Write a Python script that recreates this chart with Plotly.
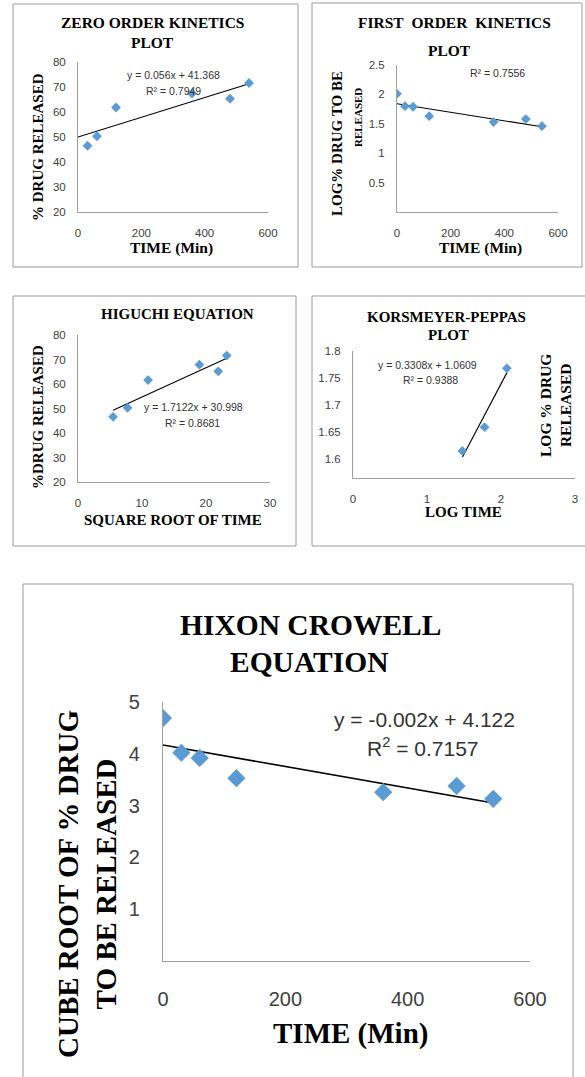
import plotly.graph_objects as go

W, H = 585, 1077

# ---------------- data ----------------
zero_time = [30, 60, 120, 360, 480, 540]
zero_released = [46.5, 50.3, 61.8, 67.4, 65.3, 71.6]
zero_trend_x = [0, 540]
zero_trend_y = [50.0, 71.3]

first_time = [0, 30, 60, 120, 360, 480, 540]
first_log_remaining = [2.01, 1.80, 1.79, 1.63, 1.53, 1.58, 1.46]
first_trend_x = [0, 540]
first_trend_y = [1.84, 1.45]

hig_sqrt_time = [5.48, 7.75, 10.95, 18.97, 21.91, 23.24]
hig_released = [46.6, 50.3, 61.6, 67.9, 65.2, 71.6]
hig_trend_x = [5.48, 23.24]
hig_trend_y = [49.3, 70.5]

kp_log_time = [1.477, 1.778, 2.079]
kp_log_released = [1.615, 1.659, 1.768]
kp_trend_x = [1.48, 2.08]
kp_trend_y = [1.604, 1.760]

hix_time = [0, 30, 60, 120, 360, 480, 540]
hix_cube_root = [4.69, 4.02, 3.92, 3.53, 3.26, 3.38, 3.13]
hix_trend_x = [0, 540]
hix_trend_y = [4.17, 3.05]

# tick labels
time_ticks = [0, 200, 400, 600]
pct_ticks = [20, 30, 40, 50, 60, 70, 80]
first_y_ticks = [0.5, 1, 1.5, 2, 2.5]
first_y_text = ["0.5", "1", "1.5", "2", "2.5"]
sqrt_ticks = [0, 10, 20, 30]
kp_x_ticks = [0, 1, 2, 3]
kp_y_ticks = [1.6, 1.65, 1.7, 1.75, 1.8]
kp_y_text = ["1.6", "1.65", "1.7", "1.75", "1.8"]
hix_y_ticks = [1, 2, 3, 4, 5]

# ---------------- helpers ----------------
def fx(px):
    return px / W

def fy(py):
    return 1 - py / H

BLUE = "#5b9bd5"
AXIS = "#9f9f9f"
TICK = "#404040"
SERIF = "Liberation Serif, Times New Roman, serif"
SANS = "Liberation Sans, Arial, sans-serif"

fig = go.Figure()

panels = [
    dict(x=zero_time, y=zero_released, tx=zero_trend_x, ty=zero_trend_y,
         xd=(78, 268), yd=(62, 212), xr=[0, 600], yr=[20, 80],
         xt=time_ticks, yt=pct_ticks, ytt=None, big=False),
    dict(x=first_time, y=first_log_remaining, tx=first_trend_x, ty=first_trend_y,
         xd=(397, 558), yd=(65, 212), xr=[0, 600], yr=[0, 2.5],
         xt=time_ticks, yt=first_y_ticks, ytt=first_y_text, big=False),
    dict(x=hig_sqrt_time, y=hig_released, tx=hig_trend_x, ty=hig_trend_y,
         xd=(78, 270), yd=(335, 482), xr=[0, 30], yr=[20, 80],
         xt=sqrt_ticks, yt=pct_ticks, ytt=None, big=False),
    dict(x=kp_log_time, y=kp_log_released, tx=kp_trend_x, ty=kp_trend_y,
         xd=(353, 575), yd=(351, 478), xr=[0, 3], yr=[1.565, 1.8],
         xt=kp_x_ticks, yt=kp_y_ticks, ytt=kp_y_text, big=False),
    dict(x=hix_time, y=hix_cube_root, tx=hix_trend_x, ty=hix_trend_y,
         xd=(163, 530), yd=(702, 961), xr=[0, 600], yr=[0, 5],
         xt=time_ticks, yt=hix_y_ticks, ytt=None, big=True),
]

layout_axes = {}
for i, p in enumerate(panels, start=1):
    xa = "x" if i == 1 else f"x{i}"
    ya = "y" if i == 1 else f"y{i}"
    big = p["big"]
    fig.add_trace(go.Scatter(
        x=p["tx"], y=p["ty"], mode="lines", xaxis=xa, yaxis=ya,
        line=dict(color="black", width=1.6 if big else 1.1),
        showlegend=False, hoverinfo="skip"))
    fig.add_trace(go.Scatter(
        x=p["x"], y=p["y"], mode="markers", xaxis=xa, yaxis=ya,
        marker=dict(symbol="diamond", color=BLUE, size=14 if big else 7.5,
                    line=dict(width=0)),
        showlegend=False))
    tfont = dict(family=SANS, size=20 if big else 11.5, color=TICK)
    key_x = "xaxis" if i == 1 else f"xaxis{i}"
    key_y = "yaxis" if i == 1 else f"yaxis{i}"
    layout_axes[key_x] = dict(
        domain=[fx(p["xd"][0]), fx(p["xd"][1])], anchor=ya, range=p["xr"],
        tickmode="array", tickvals=p["xt"], ticktext=[str(v) for v in p["xt"]],
        showline=True, linecolor=AXIS, linewidth=1.3 if big else 1,
        showgrid=False, zeroline=False, ticks="", tickfont=tfont,
        ticklabelstandoff=20 if big else 10, automargin=False, fixedrange=True)
    layout_axes[key_y] = dict(
        domain=[fy(p["yd"][1]), fy(p["yd"][0])], anchor=xa, range=p["yr"],
        tickmode="array", tickvals=p["yt"],
        ticktext=p["ytt"] if p["ytt"] else [str(v) for v in p["yt"]],
        showline=True, linecolor=AXIS, linewidth=1.3 if big else 1,
        showgrid=False, zeroline=False, ticks="", tickfont=tfont,
        ticklabelstandoff=18 if big else 9, automargin=False, fixedrange=True)

# ---------------- annotations ----------------
ann = []

def text(t, x, y, size, family=SERIF, bold=True, angle=0, color="black", align="center"):
    s = f"<b>{t}</b>" if bold else t
    ann.append(dict(text=s, x=fx(x), y=fy(y), xref="paper", yref="paper",
                    xanchor="center", yanchor="middle", showarrow=False,
                    textangle=angle, align=align,
                    font=dict(family=family, size=size, color=color)))

EQ = "#333333"

# Panel 1: zero order
text("ZERO ORDER KINETICS", 152, 23, 15.5)
text("PLOT", 152, 43, 15.5)
text("% DRUG RELEASED", 38, 147, 15, angle=-90)
text("TIME (Min)", 171, 248, 15.5)
text("y = 0.056x + 41.368", 173, 75, 10.5, family=SANS, bold=False, color=EQ)
text("R² = 0.7949", 173, 91, 10.5, family=SANS, bold=False, color=EQ)

# Panel 2: first order
text("FIRST\u00a0\u00a0ORDER\u00a0\u00a0KINETICS", 454, 23, 15.5)
text("PLOT", 449, 50, 15.5)
text("LOG% DRUG TO BE", 337, 144, 15, angle=-90)
text("RELEASED", 358, 118, 11, angle=-90)
text("TIME (Min)", 480, 248, 15.5)
text("R² = 0.7556", 497, 73, 10.5, family=SANS, bold=False, color=EQ)

# Panel 3: Higuchi
text("HIGUCHI EQUATION", 177, 314, 15)
text("%DRUG RELEASED", 38, 417, 15, angle=-90)
text("SQUARE ROOT OF TIME", 173, 520, 15)
text("y = 1.7122x + 30.998", 193, 407, 10.5, family=SANS, bold=False, color=EQ)
text("R² = 0.8681", 192, 423, 10.5, family=SANS, bold=False, color=EQ)

# Panel 4: Korsmeyer-Peppas
text("KORSMEYER-PEPPAS", 447, 317, 15)
text("PLOT", 448, 335, 15)
text("LOG % DRUG<br>RELEASED", 555, 406, 15.5, angle=-90)
text("LOG TIME", 463, 512, 15)
text("y = 0.3308x + 1.0609", 427, 365, 10.5, family=SANS, bold=False, color=EQ)
text("R² = 0.9388", 430, 380, 10.5, family=SANS, bold=False, color=EQ)

# Panel 5: Hixson-Crowell
text("HIXON CROWELL", 310, 625, 29.5)
text("EQUATION", 309, 662, 29.5)
text("CUBE ROOT OF % DRUG<br>TO BE RELEASED", 87, 884, 29, angle=-90)
text("TIME (Min)", 350, 1033, 29)
text("y = -0.002x + 4.122", 424, 719, 21, family=SANS, bold=False, color=EQ)
text("R<sup>2</sup> = 0.7157", 423, 747, 21, family=SANS, bold=False, color=EQ)

# ---------------- panel frames ----------------
shapes = []
for (x0, y0, x1, y1) in [(13, 4, 298, 267), (312, 3, 582, 267), (13, 296, 296, 546),
                         (312, 296, 600, 546), (23, 584, 573, 1090)]:
    shapes.append(dict(type="rect", xref="paper", yref="paper",
                       x0=fx(x0), x1=fx(x1), y0=fy(y1), y1=fy(y0),
                       line=dict(color="#9a9a9a", width=1), fillcolor="rgba(0,0,0,0)",
                       layer="below"))

fig.update_layout(
    width=W, height=H, margin=dict(l=0, r=0, t=0, b=0),
    paper_bgcolor="white", plot_bgcolor="white",
    annotations=ann, shapes=shapes, showlegend=False,
    **layout_axes,
)

fig.write_html(
    "out.html",
    config={"displayModeBar": False},
    post_script="document.body.style.margin='0px';document.body.style.padding='0px';",
)
